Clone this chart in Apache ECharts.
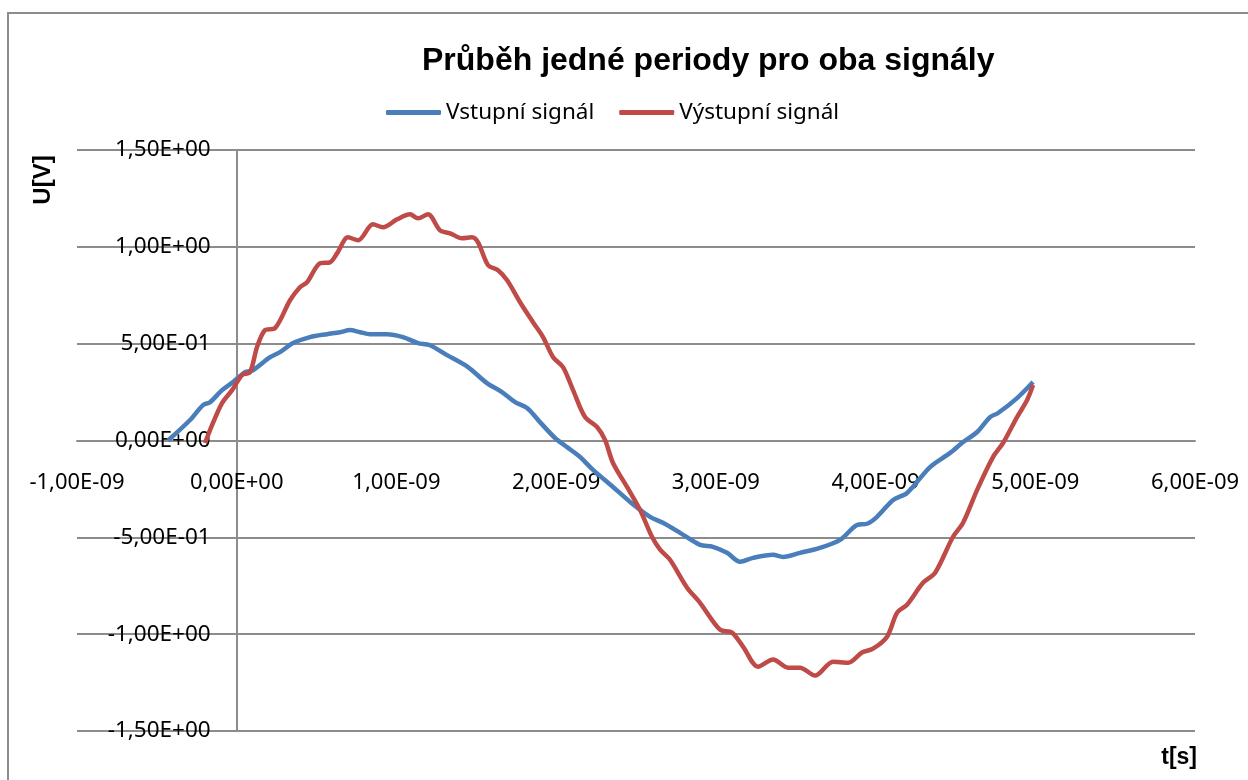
<!DOCTYPE html>
<html>
<head>
<meta charset="utf-8">
<title>Průběh jedné periody pro oba signály</title>
<script src="https://cdn.jsdelivr.net/npm/echarts@6/dist/echarts.min.js"></script>
<style>
  html, body { margin: 0; padding: 0; background: #fff; }
  #chart { width: 1248px; height: 780px; }
</style>
</head>
<body>
<div id="chart"></div>
<script>
// [t [s], U [V]]
var vstup = [
  [-0.430e-9, 0.000], [-0.292e-9, 0.106], [-0.211e-9, 0.183], [-0.167e-9, 0.198],
  [-0.092e-9, 0.260], [-0.023e-9, 0.302], [0.052e-9, 0.353], [0.102e-9, 0.363],
  [0.209e-9, 0.430], [0.271e-9, 0.456], [0.353e-9, 0.503], [0.459e-9, 0.534],
  [0.565e-9, 0.549], [0.647e-9, 0.559], [0.709e-9, 0.570], [0.772e-9, 0.559],
  [0.835e-9, 0.549], [0.941e-9, 0.549], [1.041e-9, 0.534], [1.135e-9, 0.503],
  [1.210e-9, 0.492], [1.317e-9, 0.441], [1.448e-9, 0.379], [1.567e-9, 0.296],
  [1.661e-9, 0.250], [1.743e-9, 0.198], [1.818e-9, 0.168], [1.899e-9, 0.095],
  [1.993e-9, 0.013], [2.068e-9, -0.034], [2.150e-9, -0.085], [2.231e-9, -0.152],
  [2.356e-9, -0.240], [2.463e-9, -0.317], [2.588e-9, -0.394], [2.669e-9, -0.425],
  [2.776e-9, -0.477], [2.901e-9, -0.539], [2.982e-9, -0.549], [3.070e-9, -0.580],
  [3.152e-9, -0.626], [3.233e-9, -0.606], [3.358e-9, -0.590], [3.421e-9, -0.601],
  [3.527e-9, -0.580], [3.652e-9, -0.554], [3.778e-9, -0.513], [3.884e-9, -0.436],
  [3.947e-9, -0.430], [4.009e-9, -0.394], [4.110e-9, -0.307], [4.197e-9, -0.271],
  [4.341e-9, -0.137], [4.467e-9, -0.064], [4.548e-9, -0.008], [4.636e-9, 0.044],
  [4.717e-9, 0.121], [4.767e-9, 0.142], [4.886e-9, 0.219], [4.986e-9, 0.302]
];

var vystup = [
  [-0.198e-9, -0.013], [-0.167e-9, 0.054], [-0.092e-9, 0.193], [-0.029e-9, 0.260],
  [0.033e-9, 0.338], [0.083e-9, 0.353], [0.127e-9, 0.482], [0.177e-9, 0.570],
  [0.240e-9, 0.580], [0.334e-9, 0.724], [0.396e-9, 0.791], [0.440e-9, 0.817],
  [0.522e-9, 0.915], [0.584e-9, 0.920], [0.628e-9, 0.966], [0.697e-9, 1.049],
  [0.760e-9, 1.034], [0.853e-9, 1.116], [0.916e-9, 1.101], [1.004e-9, 1.142],
  [1.085e-9, 1.168], [1.135e-9, 1.147], [1.198e-9, 1.168], [1.273e-9, 1.085],
  [1.336e-9, 1.070], [1.411e-9, 1.044], [1.473e-9, 1.049], [1.511e-9, 1.023],
  [1.574e-9, 0.905], [1.636e-9, 0.879], [1.693e-9, 0.827], [1.774e-9, 0.714],
  [1.855e-9, 0.611], [1.918e-9, 0.534], [1.981e-9, 0.430], [2.043e-9, 0.379],
  [2.106e-9, 0.260], [2.181e-9, 0.121], [2.256e-9, 0.070], [2.306e-9, 0.003],
  [2.356e-9, -0.116], [2.444e-9, -0.240], [2.525e-9, -0.358], [2.600e-9, -0.497],
  [2.651e-9, -0.564], [2.713e-9, -0.616], [2.820e-9, -0.760], [2.901e-9, -0.838],
  [3.026e-9, -0.977], [3.101e-9, -0.992], [3.170e-9, -1.064], [3.264e-9, -1.168],
  [3.358e-9, -1.131], [3.452e-9, -1.173], [3.527e-9, -1.173], [3.621e-9, -1.214],
  [3.734e-9, -1.142], [3.828e-9, -1.147], [3.915e-9, -1.095], [3.984e-9, -1.075],
  [4.072e-9, -1.013], [4.135e-9, -0.889], [4.197e-9, -0.848], [4.297e-9, -0.735],
  [4.373e-9, -0.683], [4.485e-9, -0.497], [4.548e-9, -0.425], [4.636e-9, -0.255],
  [4.736e-9, -0.085], [4.798e-9, -0.013], [4.886e-9, 0.121], [4.949e-9, 0.209],
  [4.986e-9, 0.286]
];

var seriesNames = ['Vstupní signál', 'Výstupní signál'];
var seriesColors = ['#4A7EBB', '#BE4B48'];

// excel-like scientific labels: 1,50E+00
function sci(v) {
  if (Math.abs(v) < 1e-20) return '0,00E+00';
  var parts = v.toExponential(2).split('e');
  var n = parseInt(parts[1], 10);
  var ex = (n < 0 ? '-' : '+') + (Math.abs(n) < 10 ? '0' : '') + Math.abs(n);
  return parts[0].replace('.', ',') + 'E' + ex;
}

var gridColor = '#8C8C8C';
var gridBox = { left: 77, right: 53, top: 150, bottom: 49 };
// axes cross at t = 0 and U = 0 like in excel
var xMin = -1e-9, xMax = 6e-9, yMin = -1.5, yMax = 1.5;
var plotW = 1248 - gridBox.left - gridBox.right;
var plotH = 780 - gridBox.top - gridBox.bottom;
var yAxisShift = (0 - xMin) / (xMax - xMin) * plotW;
var xAxisShift = (0 - yMin) / (yMax - yMin) * plotH;

var chart = echarts.init(document.getElementById('chart'));

chart.setOption({
  animation: false,
  backgroundColor: '#fff',
  textStyle: { fontFamily: 'Noto Sans', color: '#000' },
  title: {
    text: 'Průběh jedné periody pro oba signály',
    left: 417,
    top: 40,
    textStyle: { fontFamily: 'Liberation Sans', fontWeight: 'bold', fontSize: 32, color: '#000' }
  },
  legend: {
    left: 386,
    top: 101,
    padding: 0,
    itemWidth: 55,
    itemHeight: 5,
    itemGap: 25,
    icon: 'roundRect',
    textStyle: { fontFamily: 'Noto Sans', fontSize: 22.5, color: '#000' },
    data: seriesNames
  },
  graphic: [
    {
      type: 'rect',
      shape: { x: 8, y: 13, width: 1400, height: 900 },
      style: { fill: 'none', stroke: gridColor, lineWidth: 2 },
      silent: true
    },
    {
      type: 'text',
      x: 43, y: 180,
      rotation: Math.PI / 2,
      style: {
        text: 'U[V]', fill: '#000', align: 'center', verticalAlign: 'middle',
        font: 'bold 24px "Liberation Sans"'
      }
    },
    {
      type: 'text',
      x: 1197, y: 758,
      style: {
        text: 't[s]', fill: '#000', align: 'right', verticalAlign: 'middle',
        font: 'bold 23px "Liberation Sans"'
      }
    }
  ],
  grid: {
    left: gridBox.left, right: gridBox.right, top: gridBox.top, bottom: gridBox.bottom,
    containLabel: false, outerBoundsMode: 'none'
  },
  xAxis: {
    type: 'value',
    min: xMin,
    max: xMax,
    interval: 1e-9,
    position: 'bottom',
    offset: -xAxisShift,
    axisLine: { show: true, onZero: false, lineStyle: { color: gridColor, width: 2 } },
    axisTick: { show: false },
    splitLine: { show: false },
    axisLabel: {
      margin: 31, fontSize: 22, color: '#000', fontFamily: 'Noto Sans',
      showMinLabel: true, showMaxLabel: true, formatter: sci
    }
  },
  yAxis: {
    type: 'value',
    min: yMin,
    max: yMax,
    interval: 0.5,
    position: 'left',
    offset: -yAxisShift,
    axisLine: { show: true, onZero: false, lineStyle: { color: gridColor, width: 2 } },
    axisTick: { show: false },
    splitLine: { show: true, lineStyle: { color: gridColor, width: 2 } },
    axisLabel: { margin: 26, fontSize: 22.5, color: '#000', fontFamily: 'Noto Sans', formatter: sci }
  },
  series: [
    {
      name: seriesNames[0], type: 'line', data: vstup,
      showSymbol: false, smooth: 0.3, color: seriesColors[0],
      lineStyle: { width: 4.5, color: seriesColors[0] }
    },
    {
      name: seriesNames[1], type: 'line', data: vystup,
      showSymbol: false, smooth: 0.3, color: seriesColors[1],
      lineStyle: { width: 4.5, color: seriesColors[1] }
    }
  ]
});
</script>
</body>
</html>
